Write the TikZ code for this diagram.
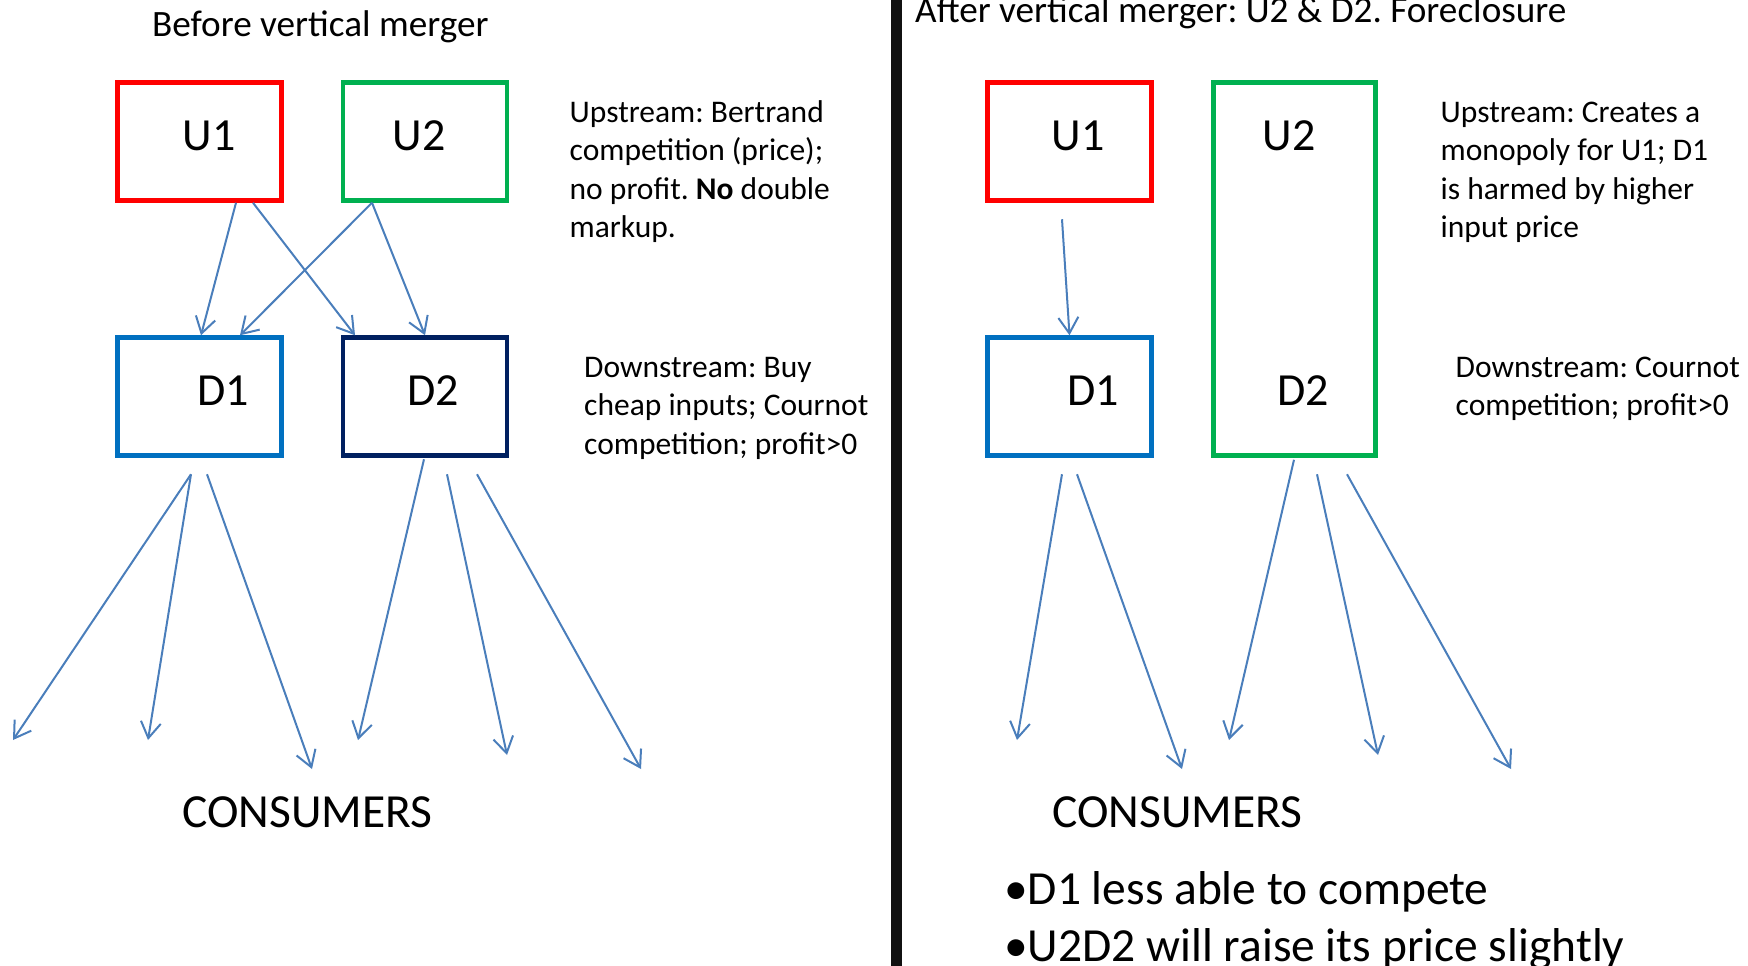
\documentclass[tikz,border=0pt]{standalone}
\usepackage{fontspec}
\setmainfont{Carlito}
\frenchspacing
\usetikzlibrary{arrows.meta}

\definecolor{upred}{RGB}{255,0,0}
\definecolor{upgreen}{RGB}{0,176,80}
\definecolor{downblue}{RGB}{0,112,192}
\definecolor{downnavy}{RGB}{0,32,96}
\definecolor{flowblue}{RGB}{74,126,187}
\definecolor{divider}{RGB}{17,17,17}

\tikzset{
	firm/.style={draw=#1, line width=4.5pt, minimum width=164pt, minimum height=118pt, inner sep=0pt},
	firmlabel/.style={font=\fontsize{46}{55}\selectfont, inner sep=0pt},
	flow/.style={draw=flowblue, line width=2pt, -{Straight Barb[length=16pt, width=20pt]}},
	note/.style={align=left, anchor=base west, inner sep=0pt, font=\fontsize{31.5}{38.5}\selectfont},
	heading/.style={note, font=\fontsize{37.2}{45}\selectfont},
	big/.style={note, font=\fontsize{47.5}{57}\selectfont}
}

\begin{document}
\begin{tikzpicture}[x=1pt, y=-1pt]
		\useasboundingbox (0,0) rectangle (1748,966);
		\clip (0,0) rectangle (1748,966);
		\fill[divider] (891,0) rectangle (902,966);

		\node[heading] (before) at (152,37) {Before vertical merger};
		\node[heading] (after) at (915,23) {After vertical merger: U2 \& D2. Foreclosure};

		\node[firm=upred, label={[firmlabel, xshift=9.5pt, yshift=5.5pt]center:U1}] (u1) at (199.5,141.5) {};
		\node[firm=upgreen, label={[firmlabel, xshift=-6pt, yshift=5.5pt]center:U2}] (u2) at (425,141.5) {};
		\node[firm=downblue, label={[firmlabel, xshift=23.5pt, yshift=6pt]center:D1}] (d1) at (199.5,396.5) {};
		\node[firm=downnavy, label={[firmlabel, xshift=8pt, yshift=6pt]center:D2}] (d2) at (425,396.5) {};

		\node[firm=upred, label={[firmlabel, xshift=8.5pt, yshift=5.5pt]center:U1}] (u1m) at (1069.5,141.5) {};
		\node[firm=downblue, label={[firmlabel, xshift=23.5pt, yshift=6pt]center:D1}] (d1m) at (1069.5,396.5) {};
		\node[firm=upgreen, minimum width=162pt, minimum height=373pt,
			label={[firmlabel, xshift=-5.5pt, yshift=133pt]center:U2},
			label={[firmlabel, xshift=8.5pt, yshift=-121.5pt]center:D2}] (u2d2) at (1294.5,269) {};

		\node[note] (upbefore) at (569.5,237.5) {Upstream: Bertrand\\competition (price);\\no profit. \textbf{No} double\\markup.};
		\node[note] (downbefore) at (584,454) {Downstream: Buy\\cheap inputs; Cournot\\competition; profit>0};
		\node[note] (upafter) at (1440.5,237.5) {Upstream: Creates a\\monopoly for U1; D1\\is harmed by higher\\input price};
		\node[note] (downafter) at (1455.5,415.5) {Downstream: Cournot\\competition; profit>0};

		\draw[flow] ([xshift=36.5pt]u1.south) -- ([xshift=1.5pt]d1.north);
		\draw[flow] ([xshift=53.5pt]u1.south) -- ([xshift=-70pt]d2.north);
		\draw[flow] ([xshift=-53pt]u2.south) -- ([xshift=40.5pt]d1.north);
		\draw[flow] ([xshift=-53pt]u2.south) -- (d2.north);
		\draw[flow] ([xshift=-7.5pt, yshift=-16.5pt]u1m.south) -- (d1m.north);

		\foreach \dx/\dy/\ex/\ey [count=\i] in {-8.5/-16.5/13/740, -8.5/-16.5/148/740, 7.5/-16.5/312/769} {
			\coordinate (cb\i) at (\ex,\ey);
			\draw[flow] ([xshift=\dx pt, yshift=\dy pt]d1.south) -- (cb\i);
		}
		\foreach \dx/\dy/\ex/\ey [count=\i] in {-1/-1.5/358/740, 22/-16.5/507/755, 52/-16.5/641/769} {
			\coordinate (cc\i) at (\ex,\ey);
			\draw[flow] ([xshift=\dx pt, yshift=\dy pt]d2.south) -- (cc\i);
		}
		\foreach \dx/\dy/\ex/\ey [count=\i] in {-7.5/-16.5/1017/740, 7.5/-16.5/1182/769} {
			\coordinate (cm\i) at (\ex,\ey);
			\draw[flow] ([xshift=\dx pt, yshift=\dy pt]d1m.south) -- (cm\i);
		}
		\foreach \dx/\dy/\ex/\ey [count=\i] in {-0.5/-2/1229/740, 22.5/-16.5/1378/755, 52.5/-16.5/1511/769} {
			\coordinate (cv\i) at (\ex,\ey);
			\draw[flow] ([xshift=\dx pt, yshift=\dy pt]u2d2.south) -- (cv\i);
		}

		\node[big, anchor=base] (consbefore) at (307.5,827.5) {CONSUMERS};
		\node[big, anchor=base] (consafter) at (1177.5,827.5) {CONSUMERS};
		\node[big] (effects) at (1004,961) {•D1 less able to compete\\•U2D2 will raise its price slightly};
	\end{tikzpicture}
\end{document}
